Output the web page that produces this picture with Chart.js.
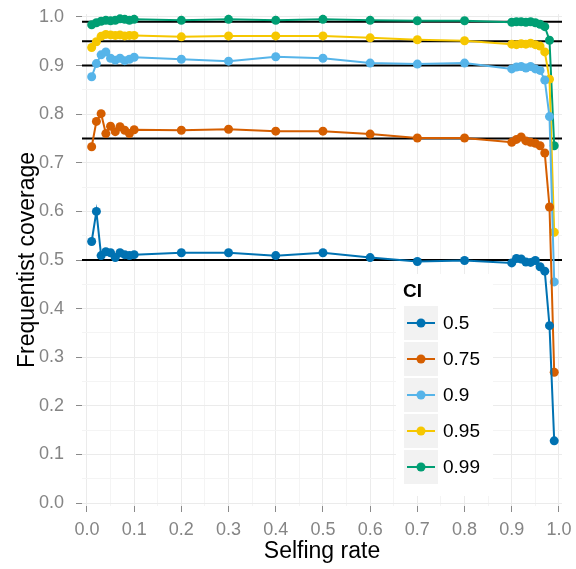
<!DOCTYPE html>
<html>
<head>
<meta charset="utf-8">
<script src="https://cdn.jsdelivr.net/npm/chart.js@4.4.0/dist/chart.umd.min.js"></script>
<style>
  html, body { margin: 0; padding: 0; background: #fff; }
  #wrap { width: 576px; height: 569px; }
</style>
</head>
<body>
<div id="wrap"><canvas id="coverageChart" width="576" height="569"></canvas></div>
<script>
// Datos
const selfingRates = [0.01, 0.02, 0.03, 0.04, 0.05, 0.06, 0.07, 0.08, 0.09, 0.1,
                      0.2, 0.3, 0.4, 0.5, 0.6, 0.7, 0.8,
                      0.9, 0.91, 0.92, 0.93, 0.94, 0.95, 0.96, 0.97, 0.98, 0.99];

const ciLabels = ['0.5', '0.75', '0.9', '0.95', '0.99'];
const ciTargets = [0.5, 0.75, 0.9, 0.95, 0.99];

const coverage50 = [0.538, 0.600, 0.509, 0.517, 0.515, 0.505, 0.515, 0.511, 0.509, 0.511,
                    0.515, 0.515, 0.509, 0.515, 0.505, 0.497, 0.499,
                    0.494, 0.503, 0.502, 0.496, 0.495, 0.499, 0.486, 0.477, 0.365, 0.128];
const coverage75 = [0.733, 0.785, 0.801, 0.760, 0.775, 0.764, 0.774, 0.767, 0.760, 0.768,
                    0.767, 0.769, 0.765, 0.765, 0.759, 0.751, 0.751,
                    0.742, 0.748, 0.753, 0.745, 0.742, 0.740, 0.735, 0.720, 0.609, 0.269];
const coverage90 = [0.877, 0.904, 0.922, 0.928, 0.915, 0.911, 0.915, 0.910, 0.913, 0.917,
                    0.913, 0.909, 0.918, 0.915, 0.905, 0.903, 0.905,
                    0.893, 0.897, 0.898, 0.895, 0.898, 0.893, 0.890, 0.870, 0.795, 0.455];
const coverage95 = [0.937, 0.949, 0.960, 0.964, 0.963, 0.962, 0.963, 0.961, 0.962, 0.962,
                    0.959, 0.961, 0.961, 0.961, 0.957, 0.953, 0.951,
                    0.944, 0.943, 0.945, 0.944, 0.946, 0.943, 0.940, 0.928, 0.872, 0.557];
const coverage99 = [0.984, 0.988, 0.991, 0.993, 0.992, 0.993, 0.996, 0.995, 0.993, 0.995,
                    0.993, 0.995, 0.993, 0.995, 0.993, 0.992, 0.992,
                    0.989, 0.990, 0.990, 0.989, 0.990, 0.988, 0.985, 0.980, 0.952, 0.735];

const tickValues = [0, 0.1, 0.2, 0.3, 0.4, 0.5, 0.6, 0.7, 0.8, 0.9, 1.0];
const tickLabels = ['0.0', '0.1', '0.2', '0.3', '0.4', '0.5', '0.6', '0.7', '0.8', '0.9', '1.0'];

const seriesValues = [coverage50, coverage75, coverage90, coverage95, coverage99];
const ciColors = ['#0072B2', '#D55E00', '#56B4E9', '#F6C700', '#009E73'];

const FONT = '"Liberation Sans", Arial, Helvetica, sans-serif';

document.addEventListener('DOMContentLoaded', function() {
    // lineas de grilla mayores y menores (cada 0.05)
    function gridTicks() {
        const out = [];
        tickValues.forEach(function(v, i) {
            out.push({ value: v });
            if (i < tickValues.length - 1) out.push({ value: (v + tickValues[i + 1]) / 2 });
        });
        return out;
    }
    function majorIndex(v) {
        return tickValues.findIndex(t => Math.abs(t - v) < 1e-9);
    }
    function gridColor(ctx) {
        if (!ctx.tick) return '#ebebeb';
        return majorIndex(ctx.tick.value) >= 0 ? '#ebebeb' : '#f4f4f4';
    }
    function tickColor(ctx) {
        if (!ctx.tick) return '#8a8a8a';
        return majorIndex(ctx.tick.value) >= 0 ? '#8a8a8a' : 'rgba(0,0,0,0)';
    }
    function tickText(v) {
        const i = majorIndex(v);
        return i >= 0 ? tickLabels[i] : '';
    }

    const datasets = ciLabels.map(function(label, i) {
        return {
            label: label,
            data: selfingRates.map((x, j) => ({ x: x, y: seriesValues[i][j] })),
            borderColor: ciColors[i],
            backgroundColor: ciColors[i],
            pointBackgroundColor: ciColors[i],
            pointBorderWidth: 0,
            pointRadius: 4.5,
            borderWidth: 2,
            tension: 0,
            fill: false
        };
    });

    // lineas horizontales negras en cada nivel nominal
    const targetLines = {
        id: 'targetLines',
        beforeDatasetsDraw(chart) {
            const { ctx, chartArea, scales } = chart;
            ctx.save();
            ctx.strokeStyle = '#000';
            ctx.lineWidth = 2;
            ciTargets.forEach(function(t) {
                const y = scales.y.getPixelForValue(t);
                ctx.beginPath();
                ctx.moveTo(chartArea.left, y);
                ctx.lineTo(chartArea.right, y);
                ctx.stroke();
            });
            ctx.restore();
        }
    };

    // leyenda estilo ggplot dentro del panel
    const ciLegend = {
        id: 'ciLegend',
        afterDraw(chart) {
            const { ctx, chartArea } = chart;
            const left = chartArea.left + 314;
            const top = 274;
            ctx.save();
            ctx.fillStyle = '#fff';
            ctx.fillRect(left, top, 97, 222);
            ctx.fillStyle = '#000';
            ctx.font = 'bold 19px ' + FONT;
            ctx.textBaseline = 'middle';
            ctx.textAlign = 'left';
            ctx.fillText('CI', left + 7, top + 18);
            ciLabels.forEach(function(label, i) {
                const bx = left + 8;
                const by = top + 32 + i * 36;
                ctx.fillStyle = '#f2f2f2';
                ctx.fillRect(bx, by, 34, 34);
                const cy = by + 17;
                ctx.strokeStyle = ciColors[i];
                ctx.lineWidth = 2;
                ctx.beginPath();
                ctx.moveTo(bx + 3, cy);
                ctx.lineTo(bx + 31, cy);
                ctx.stroke();
                ctx.fillStyle = ciColors[i];
                ctx.beginPath();
                ctx.arc(bx + 17, cy, 4.5, 0, Math.PI * 2);
                ctx.fill();
                ctx.fillStyle = '#000';
                ctx.font = '19px ' + FONT;
                ctx.fillText(label, bx + 39, cy + 1);
            });
            ctx.restore();
        }
    };

    new Chart(document.getElementById('coverageChart'), {
        type: 'line',
        data: { datasets: datasets },
        plugins: [targetLines, ciLegend],
        options: {
            responsive: false,
            animation: false,
            layout: { padding: { top: 14, right: 14, left: 0, bottom: 0 } },
            plugins: {
                legend: { display: false },
                tooltip: { enabled: false }
            },
            scales: {
                x: {
                    type: 'linear',
                    min: -0.0105,
                    max: 1.0065,
                    afterBuildTicks: s => { s.ticks = gridTicks(); },
                    afterFit: s => { s.height = 63; s.paddingLeft = 0; s.paddingRight = 0; },
                    border: { display: false },
                    grid: { color: gridColor, tickColor: tickColor, tickLength: 6, lineWidth: 1 },
                    ticks: {
                        autoSkip: false, maxRotation: 0, padding: 7,
                        color: '#858585', font: { size: 18, family: FONT },
                        callback: v => tickText(v)
                    },
                    title: {
                        display: true, text: 'Selfing rate', color: '#000',
                        font: { size: 23, family: FONT }, padding: { bottom: 4 }
                    }
                },
                y: {
                    type: 'linear',
                    min: -0.006,
                    max: 1.006,
                    afterBuildTicks: s => { s.ticks = gridTicks(); },
                    afterFit: s => { s.width = 82; s.paddingTop = 0; s.paddingBottom = 0; },
                    border: { display: false },
                    grid: { color: gridColor, tickColor: tickColor, tickLength: 6, lineWidth: 1 },
                    ticks: {
                        autoSkip: false, padding: 12,
                        color: '#858585', font: { size: 18, family: FONT },
                        callback: v => tickText(v)
                    },
                    title: {
                        display: true, text: 'Frequentist coverage', color: '#000',
                        font: { size: 23, family: FONT }, padding: { top: 14 }
                    }
                }
            }
        }
    });
});
</script>
</body>
</html>
